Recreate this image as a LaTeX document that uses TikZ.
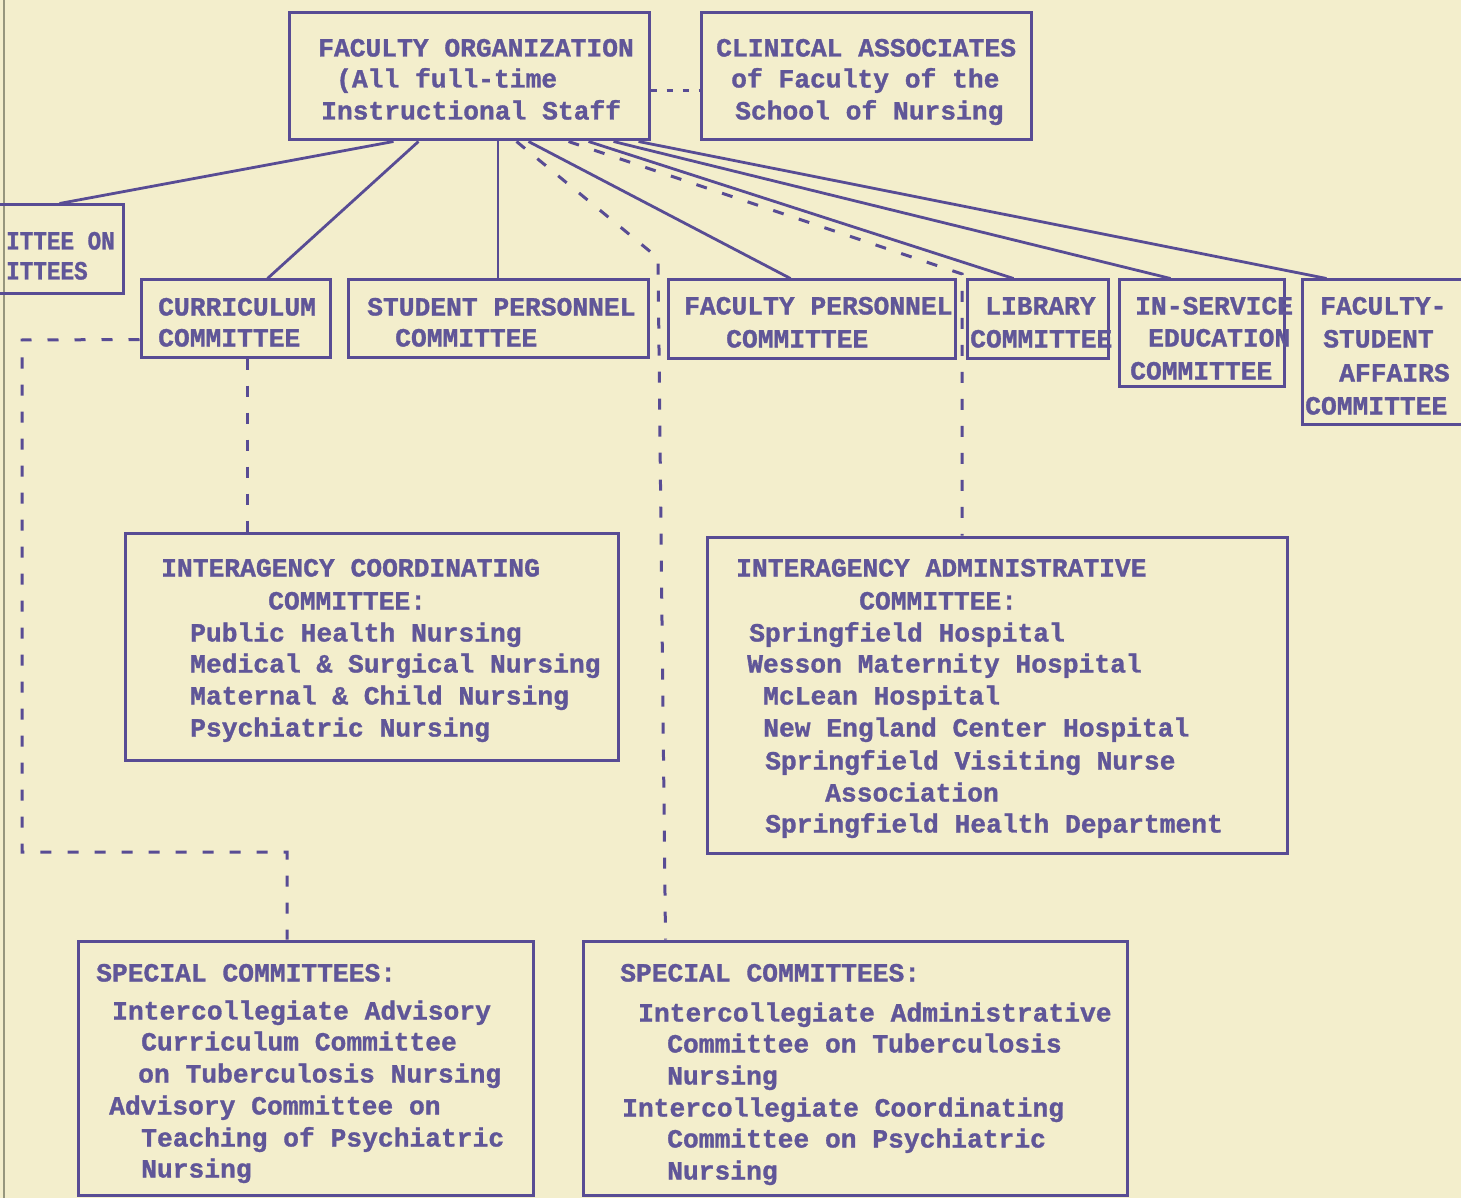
\documentclass[tikz,border=0pt]{standalone}
\usepackage{fontspec}
\newfontfamily\twfont{Liberation Mono}[BoldFeatures={FakeBold=1.2}]
\usetikzlibrary{calc}
\definecolor{bg}{RGB}{243,238,204}
\definecolor{ink}{RGB}{88,76,148}
\definecolor{txtink}{RGB}{96,86,152}
\definecolor{edge}{RGB}{150,150,125}
\tikzset{
  box/.style={draw=ink, line width=3pt, rectangle, inner sep=0pt},
  link/.style={draw=ink, line width=2.8pt},
  dlink/.style={draw=ink, line width=3pt, dash pattern=on 11pt off 16pt},
  txt/.style={text=txtink, font=\twfont\bfseries\fontsize{26.3}{31}\selectfont, anchor=base west, inner sep=0pt},
}
\newcommand\mkbox[5]{\node[box, minimum width={#4-#2}, minimum height={#5-#3}] (#1) at ({(#2+#4)/2},{(#3+#5)/2}) {};}
\newcommand\tl[4]{\node[txt] (#1) at (#2,{#3+9.5}) {#4};}
\begin{document}
\begin{tikzpicture}[x=1pt,y=-1pt]
\fill[bg] (0,0) rectangle (1461,1198);
\useasboundingbox (0,0) rectangle (1461,1198);
\begin{scope}
\clip (0,0) rectangle (1461,1198);
\draw[line width=1.5pt, edge] (4,0) -- (4,1198);
% boxes
\mkbox{fo}{289}{13}{649}{140}
\mkbox{ca}{701}{13}{1031}{140}
\mkbox{cc}{-20}{205}{123}{293}
\mkbox{cur}{141}{280}{330}{357}
\mkbox{sp}{348}{280}{648}{357}
\mkbox{fp}{668}{280}{955}{358}
\mkbox{lib}{967}{280}{1108}{358}
\mkbox{isv}{1119}{280}{1284}{386}
\mkbox{fsa}{1302}{280}{1480}{424}
\mkbox{ic}{125}{533}{618}{760}
\mkbox{ia}{707}{537}{1287}{853}
\mkbox{sl}{78}{941}{533}{1195}
\mkbox{sr}{583}{941}{1127}{1195}
% texts
\tl{t1}{318}{47}{FACULTY ORGANIZATION}
\tl{t2}{336}{78}{(All full-time}
\tl{t3}{321}{110}{Instructional Staff}
\tl{t4}{716}{47}{CLINICAL ASSOCIATES}
\tl{t5}{731}{78}{of Faculty of the}
\tl{t6}{735}{110}{School of Nursing}
\tl{t7}{6}{240}{\scalebox{0.86}[1]{ITTEE ON}}
\tl{t8}{6}{270}{\scalebox{0.86}[1]{ITTEES}}
\tl{t9}{158}{306}{CURRICULUM}
\tl{t10}{158}{337}{COMMITTEE}
\tl{t11}{367}{306}{STUDENT PERSONNEL}
\tl{t12}{395}{337}{COMMITTEE}
\tl{t13}{684}{305}{FACULTY PERSONNEL}
\tl{t14}{726}{338}{COMMITTEE}
\tl{t15}{985}{305}{LIBRARY}
\tl{t16}{970}{338}{COMMITTEE}
\tl{t17}{1135}{305}{IN-SERVICE}
\tl{t18}{1148}{337}{EDUCATION}
\tl{t19}{1130}{370}{COMMITTEE}
\tl{t20}{1320}{305}{FACULTY-}
\tl{t21}{1323}{338}{STUDENT}
\tl{t22}{1339}{372}{AFFAIRS}
\tl{t23}{1305}{405}{COMMITTEE}
\tl{t24}{161}{567}{INTERAGENCY COORDINATING}
\tl{t25}{268}{600}{COMMITTEE:}
\tl{t26}{190}{632}{Public Health Nursing}
\tl{t27}{190}{663}{Medical \& Surgical Nursing}
\tl{t28}{190}{695}{Maternal \& Child Nursing}
\tl{t29}{190}{727}{Psychiatric Nursing}
\tl{t30}{736}{567}{INTERAGENCY ADMINISTRATIVE}
\tl{t31}{859}{600}{COMMITTEE:}
\tl{t32}{749}{632}{Springfield Hospital}
\tl{t33}{747}{663}{Wesson Maternity Hospital}
\tl{t34}{763}{695}{McLean Hospital}
\tl{t35}{763}{727}{New England Center Hospital}
\tl{t36}{765}{760}{Springfield Visiting Nurse}
\tl{t37}{825}{792}{Association}
\tl{t38}{765}{823}{Springfield Health Department}
\tl{t39}{96}{972}{SPECIAL COMMITTEES:}
\tl{t40}{112}{1010}{Intercollegiate Advisory}
\tl{t41}{141}{1041}{Curriculum Committee}
\tl{t42}{138}{1073}{on Tuberculosis Nursing}
\tl{t43}{109}{1105}{Advisory Committee on}
\tl{t44}{141}{1137}{Teaching of Psychiatric}
\tl{t45}{141}{1168}{Nursing}
\tl{t46}{620}{972}{SPECIAL COMMITTEES:}
\tl{t47}{638}{1012}{Intercollegiate Administrative}
\tl{t48}{667}{1043}{Committee on Tuberculosis}
\tl{t49}{667}{1075}{Nursing}
\tl{t50}{622}{1107}{Intercollegiate Coordinating}
\tl{t51}{667}{1138}{Committee on Psychiatric}
\tl{t52}{667}{1170}{Nursing}
% solid connectors
\draw[link] ([xshift=106pt]fo.south west) -- ([xshift=8pt]cc.north);
\draw[link] ([xshift=131pt]fo.south west) -- ([xshift=32pt]cur.north);
\draw[link] (sp.north |- fo.south) -- (sp.north);
\draw[link] ([xshift=241pt]fo.south west) -- ([xshift=-21pt]fp.north);
\draw[link] ([xshift=301pt]fo.south west) -- ([xshift=-24pt]lib.north);
\draw[link] ([xshift=326pt]fo.south west) -- ([xshift=-31pt]isv.north);
\draw[link] ([xshift=351pt]fo.south west) -- ([xshift=26pt]fsa.north west);
% dashed connectors
\draw[dlink, dash pattern=on 6pt off 10pt] ([yshift=-14pt]fo.east) -- ([yshift=-14pt]ca.west);
\coordinate (b1) at (658,258);
\draw[dlink] ([xshift=229pt]fo.south west) -- (b1) -- ([xshift=84pt]sr.north west);
\coordinate (b2) at (962,274);
\draw[dlink] ([xshift=281pt]fo.south west) -- (b2) -- (b2 |- ia.north);
\draw[dlink] ([xshift=12pt]cur.south) -- ([xshift=12pt]cur.south |- ic.north);
\coordinate (c1) at (22,340);
\coordinate (c2) at (22,852);
\coordinate (c3) at (287,852);
\draw[dlink] ([yshift=-21pt]cur.west) -- (c1) -- (c2) -- (c3) -- (c3 |- sl.north);
\end{scope}
\end{tikzpicture}
\end{document}
